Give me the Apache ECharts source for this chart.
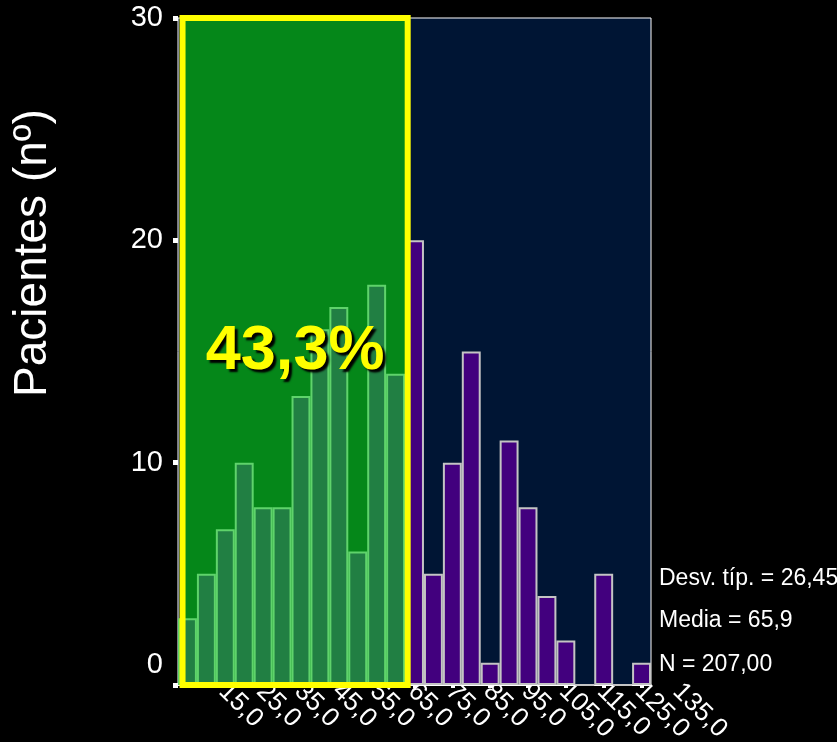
<!DOCTYPE html>
<html>
<head>
<meta charset="utf-8">
<script src="https://cdn.jsdelivr.net/npm/echarts@6/dist/echarts.min.js"></script>
<style>
  html, body { margin: 0; padding: 0; background: #000; }
  #chart { width: 837px; height: 742px; }
</style>
</head>
<body>
<div id="chart"></div>
<script>
// Histogram bins (midpoints) and patient counts per bin
const binLabels = [
  '15,0', '20,0', '25,0', '30,0', '35,0', '40,0', '45,0', '50,0', '55,0',
  '60,0', '65,0', '70,0', '75,0', '80,0', '85,0', '90,0', '95,0', '100,0',
  '105,0', '110,0', '115,0', '120,0', '125,0', '130,0', '135,0'
];
const patientCounts = [
  3, 5, 7, 10, 8, 8, 13, 16, 17, 6, 18, 14,
  20, 5, 10, 15, 1, 11, 8, 4, 2, 0, 5, 0, 1
];
// Number of leading bins inside the highlighted group
const highlightedBins = 12;
// Highlighted span in axis units, and its caption
const highlightSpan = [13.7, 73.2];
const highlightCaption = '43,3%';
// Y axis scale
const yTicks = [0, 10, 20, 30];
// Summary statistics
const summaryLines = ['Desv. típ. = 26,45', 'Media = 65,9', 'N = 207,00'];
const yTitle = 'Pacientes (nº)';

const FONT = "'Liberation Sans', Arial, sans-serif";
const chart = echarts.init(document.getElementById('chart'), null, { renderer: 'canvas' });

const barData = patientCounts.map((v, i) => ({
  value: v,
  itemStyle: i < highlightedBins
    ? { color: '#217f43', borderColor: '#5fd36b', borderWidth: 2 }
    : { color: '#42007e', borderColor: '#c4c4c4', borderWidth: 2 }
}));

const summaryY = [579, 621, 665];
const spanCoords = [[
  { xAxis: highlightSpan[0], yAxis: yTicks[0] },
  { xAxis: highlightSpan[1], yAxis: yTicks[yTicks.length - 1] }
]];

chart.setOption({
  backgroundColor: '#000',
  animation: false,
  textStyle: { fontFamily: FONT },
  grid: {
    left: 178, right: 186, top: 18, bottom: 57,
    show: true, backgroundColor: '#001534',
    borderColor: '#ffffff', borderWidth: 1,
    outerBoundsMode: 'none'
  },
  xAxis: [
    {
      type: 'category',
      data: binLabels,
      boundaryGap: true,
      axisLine: { show: true, lineStyle: { color: '#ffffff', width: 1 } },
      axisTick: { show: true, interval: 1, alignWithLabel: true, length: 3, lineStyle: { color: '#ffffff', width: 4 } },
      axisLabel: {
        interval: 1, rotate: -45, color: '#ffffff', fontSize: 26, fontFamily: FONT,
        margin: -33, padding: [0, 0, 0, 50],
        showMinLabel: true, showMaxLabel: true, hideOverlap: false
      },
      splitLine: { show: false }
    },
    {
      type: 'value', min: 12.5, max: 137.5, show: false
    }
  ],
  yAxis: {
    type: 'value', min: yTicks[0], max: yTicks[yTicks.length - 1], interval: 10,
    axisLine: { show: false },
    axisTick: { show: true, length: 5, lineStyle: { color: '#ffffff', width: 5 } },
    axisLabel: {
      color: '#ffffff', fontSize: 29, fontFamily: FONT, margin: 15, lineHeight: 40,
      formatter: v => (v === 0 ? '0\n ' : String(v))
    },
    splitLine: { show: false }
  },
  series: [
    {
      // green backdrop of the highlighted span, below the bars
      type: 'line', xAxisIndex: 1, yAxisIndex: 0, data: [], silent: true,
      markArea: {
        z: 1, silent: true,
        itemStyle: { color: '#058719' },
        data: spanCoords
      }
    },
    {
      type: 'bar', data: barData, barCategoryGap: 0, z: 2, silent: true
    },
    {
      // yellow frame and caption above the bars
      type: 'line', xAxisIndex: 1, yAxisIndex: 0, data: [], silent: true,
      markArea: {
        z: 10, silent: true,
        itemStyle: { color: 'rgba(0,0,0,0)', borderColor: '#ffff00', borderWidth: 6 },
        label: {
          show: true, position: 'inside', formatter: highlightCaption,
          color: '#ffff00', fontSize: 63, fontWeight: 'bold', fontFamily: FONT,
          textShadowColor: '#000', textShadowOffsetX: 3, textShadowOffsetY: 3, textShadowBlur: 2
        },
        data: spanCoords
      }
    }
  ],
  graphic: [
    {
      type: 'text', x: 33, y: 253, rotation: Math.PI / 2,
      style: { text: yTitle, fill: '#ffffff', font: '46px ' + FONT, textAlign: 'center', textVerticalAlign: 'middle' }
    }
  ].concat(summaryLines.map((t, i) => ({
    type: 'text', x: 659, y: summaryY[i],
    style: { text: t, fill: '#ffffff', font: '23px ' + FONT, textAlign: 'left', textVerticalAlign: 'middle' }
  })))
});
</script>
</body>
</html>
